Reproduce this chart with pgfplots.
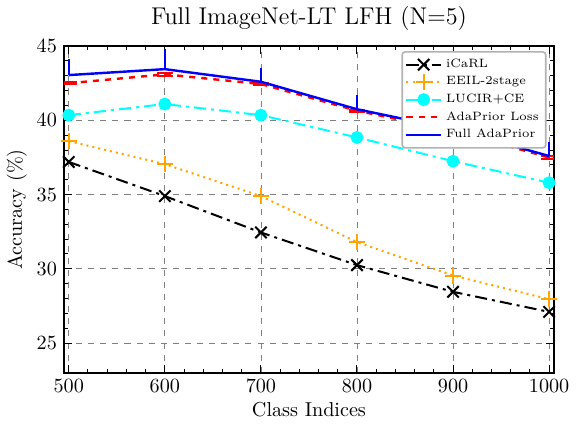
\documentclass[border=0pt]{standalone}
\usepackage{pgfplots}
\pgfplotsset{compat=1.18}
\definecolor{eorange}{HTML}{FFA500}
\definecolor{pcyan}{HTML}{00FFFF}
\begin{document}
\begin{tikzpicture}
\begin{axis}[
  scale only axis,
  width=243pt, height=162pt,
  xmin=495, xmax=1005, ymin=23, ymax=45,
  xtick={500,600,...,1000}, ytick={25,30,...,45},
  xticklabel style={/pgf/number format/1000 sep={}},
  minor x tick num=4, minor y tick num=4,
  tick align=inside, tick pos=both,
  major tick length=4pt, minor tick length=2pt,
  every tick/.style={black, line width=0.5pt},
  axis line style={line width=0.8pt},
  grid=major,
  major grid style={dashed, gray, line width=0.4pt},
  title={Full ImageNet-LT LFH (N=5)},
  title style={font=\large, yshift=-2pt},
  xlabel={Class Indices}, ylabel={Accuracy (\%)},
  xlabel style={yshift=2pt},
  ylabel style={yshift=-2pt},
  legend style={at={(0.985,0.985)}, anchor=north east, font=\fontsize{6}{7}\selectfont,
    draw=gray!60, line width=0.8pt, rounded corners=1.5pt, row sep=-1pt, inner sep=1.5pt},
  legend cell align=left,
]
\addplot[black, line width=1pt, dash pattern=on 6pt off 2.5pt on 1.5pt off 2.5pt, mark=x, mark size=4pt, mark options={solid, line width=1pt}]
  coordinates {(500,37.2) (600,34.9) (700,32.45) (800,30.25) (900,28.45) (1000,27.1)};
\addlegendentry{iCaRL}
\addplot[eorange, line width=1pt, dotted, mark=+, mark size=4pt, mark options={solid, line width=1pt}]
  coordinates {(500,38.6) (600,37.05) (700,34.9) (800,31.8) (900,29.55) (1000,27.95)};
\addlegendentry{EEIL-2stage}
\addplot[pcyan, line width=1pt, dash pattern=on 6pt off 2.5pt on 1.5pt off 2.5pt, mark=*, mark size=2.7pt, mark options={solid}]
  coordinates {(500,40.35) (600,41.1) (700,40.35) (800,38.85) (900,37.25) (1000,35.8)};
\addlegendentry{LUCIR+CE}
\addplot[red, line width=1.2pt, dashed,
  error bars/.cd, y dir=both, y explicit, error mark=|,
  error bar style={solid, line width=1pt},
  error mark options={red, mark size=4pt, line width=1pt, solid}]
  coordinates {(500,42.5) +- (0,0.08) (600,43.1) +- (0,0.08) (700,42.45) +- (0,0.08)
    (800,40.65) +- (0,0.08) (900,39.3) +- (0,0.08) (1000,37.5) +- (0,0.08)};
\addlegendentry{AdaPrior Loss}
\addplot[blue, line width=1.2pt,
  error bars/.cd, y dir=plus, y explicit, error mark=none,
  error bar style={line width=1.2pt}]
  coordinates {(500,43.05) +- (0,1.05) (600,43.45) +- (0,1.35) (700,42.6) +- (0,0.9)
    (800,40.75) +- (0,0.95) (900,39.4) +- (0,0.0) (1000,37.6) +- (0,0.95)};
\addlegendentry{Full AdaPrior}
\end{axis}
\end{tikzpicture}
\end{document}
